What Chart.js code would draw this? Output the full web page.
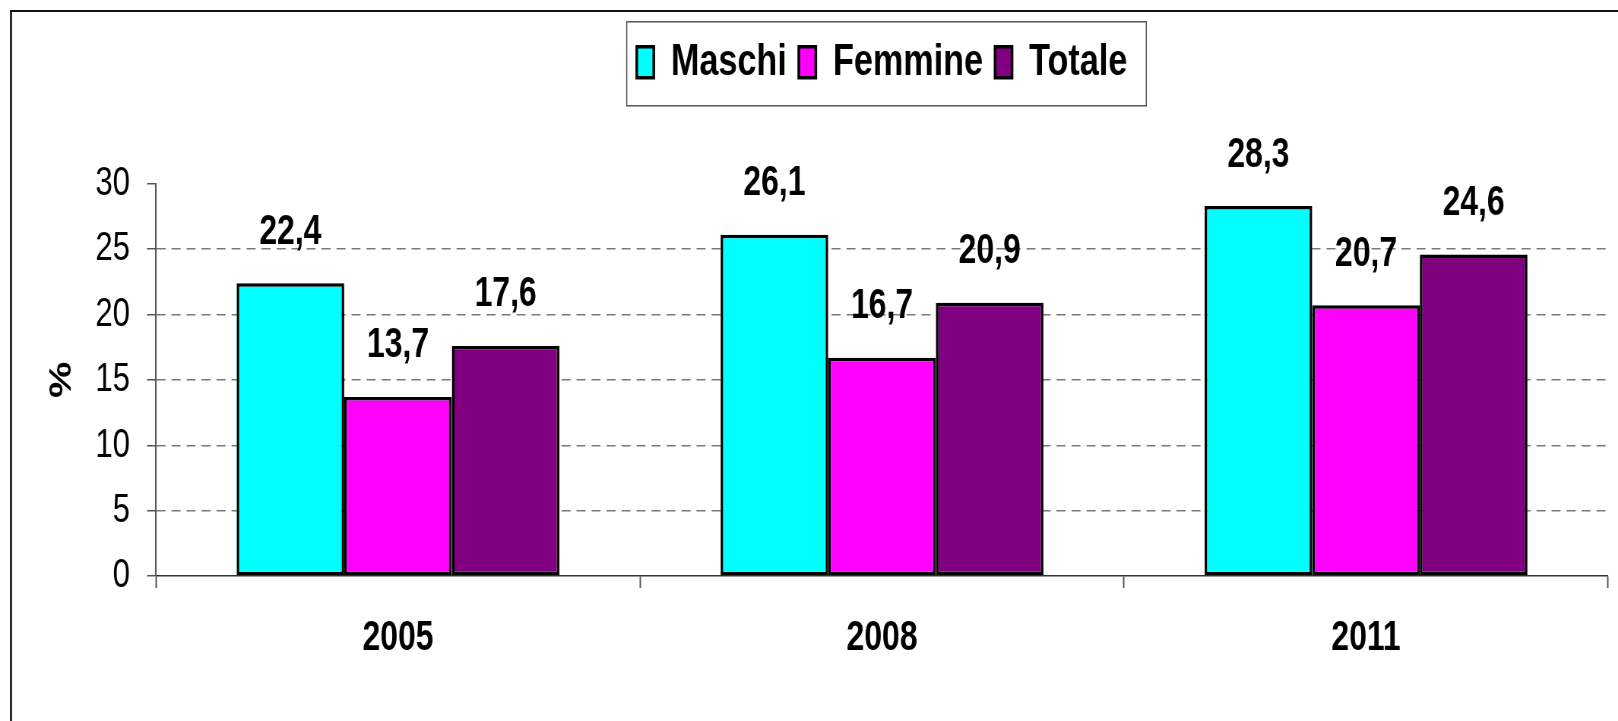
<!DOCTYPE html>
<html lang="it">
<head>
<meta charset="utf-8">
<title>Maschi / Femmine / Totale</title>
<script src="https://cdn.jsdelivr.net/npm/chart.js@4.4.1/dist/chart.umd.min.js"></script>
<style>
  html, body { margin: 0; padding: 0; background: #fff; overflow: hidden; }
  /* the chart is laid out wider and squeezed back to 1618px,
     that gives the narrow "Arial Narrow" look of the original */
  #wrap {
    width: 2129px;
    height: 721px;
    transform: scaleX(0.76);
    transform-origin: 0 0;
  }
</style>
</head>
<body>
<div id="wrap"><canvas id="barChart"></canvas></div>
<script>
// ═══════════════════════════════════════════════════
// Grouped bar chart – Maschi / Femmine / Totale (%)
// ═══════════════════════════════════════════════════

// ── 1. DATA ──────────────────────────────────────────
const years   = ['2005', '2008', '2011'];
const maschi  = [22.4, 26.1, 28.3];
const femmine = [13.7, 16.7, 20.7];
const totale  = [17.6, 20.9, 24.6];
const yTicks  = [0, 5, 10, 15, 20, 25, 30];

const FONT = "'Liberation Sans', Arial, sans-serif";
const K = 0.76;   // horizontal squeeze (must match the css above)
const hx = v => v / K;   // screen px -> canvas px, horizontal only


// ── 2. SMALL PLUGINS ─────────────────────────────────
// outer frame (only left + top edges are visible in the picture)
const framePlugin = {
  id: 'frame',
  beforeDraw(chart) {
    const c = chart.ctx;
    c.save();
    c.strokeStyle = '#111';
    c.lineWidth = hx(2);
    c.beginPath();
    c.moveTo(hx(11), chart.height);
    c.lineTo(hx(11), 11);
    c.stroke();
    c.lineWidth = 2;
    c.beginPath();
    c.moveTo(hx(10), 11);
    c.lineTo(chart.width, 11);
    c.stroke();
    c.restore();
  }
};

// legend gets extra room below it, so the plot starts lower
const legendSpace = {
  id: 'legendSpace',
  beforeInit(chart) {
    const fit = chart.legend.fit;
    chart.legend.fit = function () {
      fit.bind(chart.legend)();
      this.height += 89;
    };
  }
};

// box around the legend items
const legendBox = {
  id: 'legendBox',
  afterDraw(chart) {
    const boxes = chart.legend.legendHitBoxes;
    if (!boxes || !boxes.length) return;
    const first = boxes[0];
    const last  = boxes[boxes.length - 1];
    const c = chart.ctx;
    c.save();
    c.strokeStyle = '#555';
    c.lineWidth = 1.5;
    const x1 = first.left - hx(10);
    const x2 = last.left + last.width + hx(19);
    const y1 = first.top - 18;
    const y2 = first.top + first.height + 21;
    c.strokeRect(x1, y1, x2 - x1, y2 - y1);
    c.restore();
  }
};

// value labels above each bar ("22,4")
const valueLabels = {
  id: 'valueLabels',
  afterDatasetsDraw(chart) {
    const c = chart.ctx;
    c.save();
    c.font = 'bold 42px ' + FONT;
    c.fillStyle = '#000';
    c.textAlign = 'center';
    c.textBaseline = 'middle';
    chart.data.datasets.forEach((ds, i) => {
      chart.getDatasetMeta(i).data.forEach((bar, j) => {
        const txt = ds.data[j].toFixed(1).replace('.', ',');
        c.fillText(txt, bar.x, bar.y - 51);
      });
    });
    c.restore();
  }
};


// ── 3. BAR CHART ─────────────────────────────────────
const ctx = document.getElementById('barChart').getContext('2d');

new Chart(ctx, {
  type: 'bar',
  data: {
    labels: years,
    datasets: [
      { label: 'Maschi',  data: maschi,  backgroundColor: '#00FFFF' },
      { label: 'Femmine', data: femmine, backgroundColor: '#FF00FF' },
      { label: 'Totale',  data: totale,  backgroundColor: '#800080' }
    ]
  },
  options: {
    responsive: true,
    maintainAspectRatio: false,
    animation: false,
    layout: { padding: { top: 24, right: hx(10), bottom: 0, left: 0 } },
    datasets: {
      bar: {
        borderColor: '#000',
        borderWidth: 3.5,
        borderSkipped: false,
        categoryPercentage: 0.667,
        barPercentage: 1.0
      }
    },
    plugins: {
      tooltip: { enabled: false },
      legend: {
        position: 'top',
        fullSize: false,          // centre it over the plot, not the canvas
        labels: {
          font: { family: FONT, size: 45, weight: 'bold' },
          color: '#000',
          boxWidth: hx(17),
          boxHeight: 31,
          padding: hx(12)
        }
      }
    },
    scales: {
      x: {
        afterFit(s) { s.height = 145; },
        grid: {
          drawOnChartArea: false,
          offset: true,
          tickLength: 12,
          tickColor: '#555',
          tickWidth: hx(1.5)
        },
        border: { color: '#333', width: 1.5 },
        ticks: {
          padding: 25,
          color: '#000',
          font: { family: FONT, size: 42, weight: 'bold' }
        }
      },
      y: {
        min: 0,
        max: 30,
        afterFit(s) { s.width = hx(156); },
        afterBuildTicks(s) { s.ticks = yTicks.map(v => ({ value: v })); },
        grid: {
          // no dashed line on top of the frame edges (0 and 30)
          color: c => (c.tick && (c.tick.value === 0 || c.tick.value === 30)) ? 'rgba(0,0,0,0)' : '#7a7a7a',
          lineWidth: 1.5,
          tickLength: hx(9),
          tickColor: '#555',
          tickWidth: 1.5,
          tickBorderDash: []
        },
        border: { color: '#555', width: hx(1.5), dash: [hx(9), hx(6)] },
        ticks: {
          padding: hx(17),
          color: '#000',
          font: { family: FONT, size: 41 }
        },
        title: {
          display: true,
          text: '%',
          color: '#000',
          padding: { top: hx(62) - 24, bottom: 0 },
          font: { family: FONT, size: 41, weight: 'bold' }
        }
      }
    }
  },
  plugins: [framePlugin, legendSpace, legendBox, valueLabels]
});
</script>
</body>
</html>
